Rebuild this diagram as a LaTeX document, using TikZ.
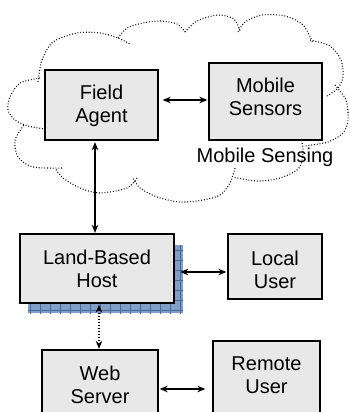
\documentclass[tikz,border=0pt]{standalone}
\usepackage{fontspec}
\setmainfont{Liberation Sans}
\usetikzlibrary{arrows.meta,calc}
\definecolor{boxfill}{RGB}{232,232,232}
\definecolor{shfill}{RGB}{130,158,196}
\definecolor{shgrid}{RGB}{70,105,155}
\begin{document}
\begin{tikzpicture}[x=1pt,y=-1pt,
  box/.style={draw,line width=1.3pt,fill=boxfill,inner sep=0pt},
  lbl/.style={font=\fontsize{20}{23}\selectfont,align=center,inner sep=0pt},
  arr/.style={line width=1.2pt,{Stealth[length=8pt,width=6.5pt]}-{Stealth[length=8pt,width=6.5pt]}},
  dotline/.style={dash pattern=on 1.2pt off 1.8pt},
  cloudline/.style={line width=1.1pt,dash pattern=on 0.9pt off 1.9pt}]
\useasboundingbox (0,0) rectangle (349,412);
\clip (0,0) rectangle (349,412);
\fill[white] (0,0) rectangle (349,412);
% cloud
\draw[cloudline] plot[smooth] coordinates {(38,82) (42,60) (53,42) (77,33) (100,33) (118,38) (130,44)};
\draw[cloudline] plot[smooth] coordinates {(118,38) (127,28) (143,23) (160,21) (177,24) (185,32)};
\draw[cloudline] plot[smooth] coordinates {(185,32) (197,21) (218,15) (234,19) (240,31)};
\draw[cloudline] plot[smooth] coordinates {(238,32) (245,22) (262,15) (285,16) (303,25) (313,43)};
\draw[cloudline] plot[smooth] coordinates {(310,40) (330,46) (341,60) (343,77) (338,88) (327,96)};
\draw[cloudline] plot[smooth] coordinates {(335,85) (346,100) (348,120) (343,133) (328,142) (305,146)};
\draw[cloudline] plot[smooth] coordinates {(283,117) (298,130) (303,150) (299,168) (280,178) (257,181) (233,177)};
\draw[cloudline] plot[smooth] coordinates {(235,168) (230,183) (220,195) (203,200) (180,202) (157,197) (140,188) (133,178)};
\draw[cloudline] plot[smooth] coordinates {(137,178) (127,188) (100,193) (80,188) (63,178) (55,168)};
\draw[cloudline] plot[smooth] coordinates {(62,168) (33,167) (18,157) (15,140) (24,125)};
\draw[cloudline] plot[smooth] coordinates {(40,78) (20,83) (10,97) (8,110) (15,120) (28,126) (45,129)};
% boxes top
\node[box,minimum width=113pt,minimum height=70pt] (fa) at (101.5,105) {};
\node[lbl] (fat) at (101.5,105.5) {Field\\Agent};
\node[box,minimum width=113pt,minimum height=77pt] (ms) at (265.5,101.5) {};
\node[lbl] (mst) at (265.5,96.5) {Mobile\\Sensors};
\node[lbl] (sens) at (265,157) {Mobile Sensing};
% shadow
\node[fill=shfill,minimum width=155pt,minimum height=68pt,inner sep=0pt] (sh) at (105.5,279) {};
\begin{scope}
  \clip (sh.north west) rectangle (sh.south east);
  \draw[shgrid,line width=0.5pt,step=10pt] (28,245) grid (190,320);
\end{scope}
\node[box,minimum width=154pt,minimum height=69pt] (lbh) at (97,268.5) {};
\node[lbl] (lbht) at (97,268.5) {Land-Based\\Host};
\node[box,minimum width=94pt,minimum height=65pt] (lu) at (275,266.5) {};
\node[lbl] (lut) at (275,269.5) {Local\\User};
\node[box,minimum width=116pt,minimum height=80pt] (ws) at (100,390) {};
\node[lbl] (wst) at (100,385) {Web\\Server};
\node[box,minimum width=107pt,minimum height=89pt] (ru) at (266.5,385.5) {};
\node[lbl] (rut) at (266.5,375) {Remote\\User};
% connectors
\coordinate (v1) at (95,0);
\coordinate (v2) at (99,0);
\coordinate (h1) at (0,100);
\coordinate (h2) at (0,272);
\coordinate (h3) at (0,389);
\draw[arr,shorten <=1.5pt,shorten >=0.5pt] (fa.south -| v1) -- (lbh.north -| v1);
\draw[arr,shorten <=4pt,shorten >=1pt] (fa.east |- h1) -- (ms.west |- h1);
\draw[arr,shorten <=-3pt,shorten >=1pt] (sh.east |- h2) -- (lu.west |- h2);
\draw[arr,dotline,shorten <=1pt,shorten >=0.5pt] (lbh.south -| v2) -- (ws.north -| v2);
\draw[arr,shorten <=1pt,shorten >=7pt] (ws.east |- h3) -- (ru.west |- h3);
\end{tikzpicture}
\end{document}
